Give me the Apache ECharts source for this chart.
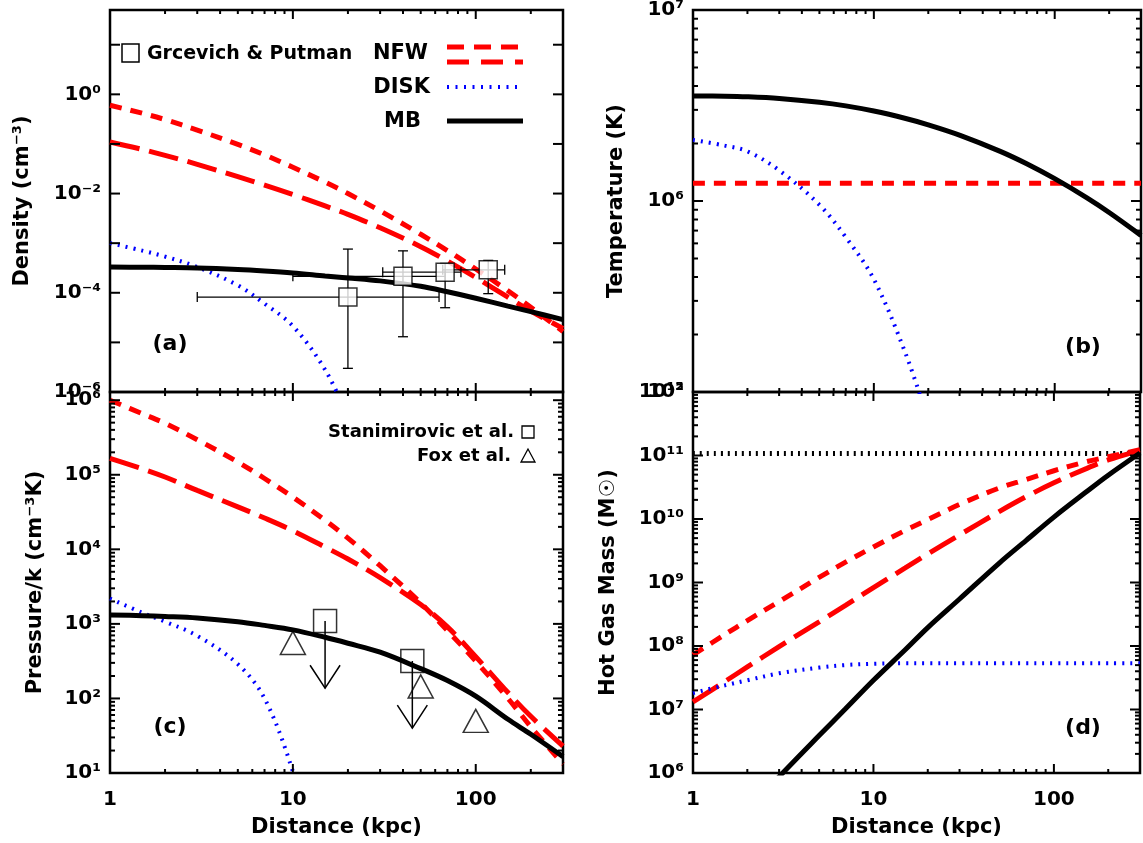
<!DOCTYPE html>
<html>
<head>
<meta charset="utf-8">
<title>Hot gas profiles</title>
<script src="https://cdn.jsdelivr.net/npm/echarts@6/dist/echarts.min.js"></script>
<style>
    html, body { margin: 0; padding: 0; background: #fff; }
    #chart { width: 1143px; height: 843px; }
</style>
</head>
<body>
<div id="chart"></div>
<script>
const radius = [1, 1.5, 2, 3, 5, 7, 10, 15, 20, 30, 50, 70, 100, 150, 200, 300];

// (a) log10 density (cm^-3)
const densNfwA = [-0.22, -0.38, -0.51, -0.72, -1.01, -1.22, -1.47, -1.77, -2.00, -2.35, -2.82, -3.15, -3.52, -3.96, -4.29, -4.78];
const densNfwB = [-0.96, -1.11, -1.23, -1.41, -1.66, -1.83, -2.02, -2.25, -2.42, -2.69, -3.07, -3.36, -3.69, -4.09, -4.37, -4.72];
const densDisk = [-3.00, -3.15, -3.27, -3.48, -3.85, -4.22, -4.67, -5.55, -6.50];
const densMb   = [-3.48, -3.485, -3.49, -3.50, -3.53, -3.56, -3.60, -3.66, -3.70, -3.76, -3.87, -3.98, -4.11, -4.27, -4.38, -4.54];

// (b) log10 temperature (K)
const tempMb   = [6.55, 6.549, 6.546, 6.537, 6.517, 6.498, 6.471, 6.432, 6.399, 6.344, 6.26, 6.195, 6.117, 6.018, 5.94, 5.82];
const tempDisk = [6.32, 6.29, 6.26, 6.16, 5.98, 5.81, 5.59, 5.20, 4.85];
const tempNfwR = [1, 300];
const tempNfw  = [6.093, 6.093];

// (c) log10 pressure/k (cm^-3 K)
const presNfwA = [6.00, 5.82, 5.69, 5.47, 5.17, 4.95, 4.70, 4.39, 4.15, 3.78, 3.28, 2.91, 2.50, 2.00, 1.62, 1.12];
const presNfwB = [5.22, 5.08, 4.97, 4.79, 4.57, 4.42, 4.25, 4.03, 3.87, 3.62, 3.26, 2.96, 2.56, 2.08, 1.76, 1.36];
const presDisk = [3.34, 3.15, 3.03, 2.84, 2.46, 2.00, 1.02, -0.50];
const presMb   = [3.12, 3.11, 3.10, 3.08, 3.03, 2.98, 2.92, 2.82, 2.74, 2.62, 2.40, 2.24, 2.03, 1.72, 1.52, 1.22];

// (d) log10 hot gas mass (Msun)
const massNfwA = [7.86, 8.18, 8.40, 8.70, 9.08, 9.32, 9.56, 9.82, 9.99, 10.23, 10.49, 10.62, 10.76, 10.90, 10.98, 11.09];
const massNfwB = [7.12, 7.44, 7.67, 7.99, 8.38, 8.64, 8.92, 9.23, 9.45, 9.75, 10.12, 10.35, 10.57, 10.79, 10.93, 11.08];
const massDisk = [7.26, 7.38, 7.46, 7.57, 7.66, 7.70, 7.72, 7.73, 7.73, 7.73, 7.73, 7.73, 7.73, 7.73, 7.73, 7.73];
const massMb   = [4.50, 5.00, 5.40, 5.94, 6.59, 7.01, 7.46, 7.94, 8.29, 8.74, 9.31, 9.66, 10.03, 10.42, 10.69, 11.04];
const massLimR = [1, 300];
const massLim  = [11.03, 11.03];

// Grcevich & Putman points (a)
const gpDist   = [20, 40, 68, 117];
const gpDens   = [8.2e-5, 2.15e-4, 2.6e-4, 2.9e-4];
const gpDistLo = [3.0, 10, 31, 66];
const gpDistHi = [63, 68, 83, 144];
const gpDensLo = [3.0e-6, 1.3e-5, 5.0e-5, 9.6e-5];
const gpDensHi = [7.6e-4, 7.0e-4, 3.9e-4, 4.5e-4];

// Stanimirovic (upper limits) and Fox points (c)
const stDist    = [15, 45];
const stPres    = [1094, 318];
const stPresLim = [137, 40];
const foxDist   = [10, 50, 100];
const foxPres   = [555, 145, 50];

// tick labels
const xTickVals  = [1, 10, 100];
const xTickText  = ['1', '10', '100'];
const densTickVals = [1e-6, 1e-4, 1e-2, 1];
const densTickText = ['10⁻⁶', '10⁻⁴', '10⁻²', '10⁰'];
const tempTickVals = [1e5, 1e6, 1e7];
const tempTickText = ['10⁵', '10⁶', '10⁷'];
const presTickVals = [1e1, 1e2, 1e3, 1e4, 1e5, 1e6];
const presTickText = ['10¹', '10²', '10³', '10⁴', '10⁵', '10⁶'];
const massTickVals = [1e6, 1e7, 1e8, 1e9, 1e10, 1e11, 1e12];
const massTickText = ['10⁶', '10⁷', '10⁸', '10⁹', '10¹⁰', '10¹¹', '10¹²'];

const minorSteps = [2, 3, 4, 5, 6, 7, 8, 9];

const FONT = 'DejaVu Sans';
const RED = '#ff0000', BLUE = '#0000ff', BLACK = '#000000';
const shortDash = [12, 9], longDash = [30, 10], dotted = [2, 6];

function decades(lo, hi) {
    let out = [];
    for (let e = lo; e <= hi; e++) out.push(Math.pow(10, e));
    return out;
}
function minors(lo, hi, max) {
    let out = [];
    for (let e = lo; e <= hi; e++) {
        minorSteps.forEach(k => {
            let v = k * Math.pow(10, e);
            if (v <= max) out.push(v);
        });
    }
    return out;
}

function labelFrom(vals, texts) {
    return function (v) {
        for (let i = 0; i < vals.length; i++) {
            if (Math.abs(Math.log10(vals[i]) - Math.log10(v)) < 1e-6) return texts[i];
        }
        return '';
    };
}

function curve(g, xs, logs, color, width, dash) {
    let data = [];
    for (let i = 0; i < logs.length; i++) data.push([xs[i], Math.pow(10, logs[i])]);
    return {
        type: 'line', xAxisIndex: g, yAxisIndex: g, data: data,
        symbol: 'none', smooth: 0.35, silent: true,
        lineStyle: {color: color, width: width, type: dash || 'solid', cap: 'butt'},
        z: 2
    };
}

// box ticks on all four sides, placed through the axes
function xTicks(g, vals, yRef, len) {
    return {
        type: 'custom', xAxisIndex: g, yAxisIndex: g, silent: true, z: 5,
        data: vals.map(v => [v, yRef, len]),
        renderItem: function (params, api) {
            let cs = params.coordSys;
            let x = api.coord([api.value(0), api.value(1)])[0];
            let l = api.value(2);
            let st = {stroke: BLACK, lineWidth: 2};
            return {type: 'group', children: [
                {type: 'line', shape: {x1: x, y1: cs.y + cs.height, x2: x, y2: cs.y + cs.height - l}, style: st},
                {type: 'line', shape: {x1: x, y1: cs.y, x2: x, y2: cs.y + l}, style: st}
            ]};
        }
    };
}
function yTicks(g, vals, len) {
    return {
        type: 'custom', xAxisIndex: g, yAxisIndex: g, silent: true, z: 5,
        data: vals.map(v => [1, v, len]),
        renderItem: function (params, api) {
            let cs = params.coordSys;
            let y = api.coord([api.value(0), api.value(1)])[1];
            let l = api.value(2);
            let st = {stroke: BLACK, lineWidth: 2};
            return {type: 'group', children: [
                {type: 'line', shape: {x1: cs.x, y1: y, x2: cs.x + l, y2: y}, style: st},
                {type: 'line', shape: {x1: cs.x + cs.width, y1: y, x2: cs.x + cs.width - l, y2: y}, style: st}
            ]};
        }
    };
}

const yMin = [1e-6, 1e5, 1e1, 1e6];
const yMax = [Math.pow(10, 1.7), 1e7, Math.pow(10, 6.11), 1e12];
const yNames = ['Density (cm⁻³)', 'Temperature (K)', 'Pressure/k (cm⁻³K)', 'Hot Gas Mass (M☉)'];
const yNameGap = [77, 66, 64, 74];
const yFormat = [
    labelFrom(densTickVals, densTickText),
    labelFrom(tempTickVals, tempTickText),
    labelFrom(presTickVals, presTickText),
    labelFrom(massTickVals, massTickText)
];

const gridPos = [
    {left: 110, top: 10, width: 453, height: 382},
    {left: 693, top: 10, width: 448, height: 382},
    {left: 110, top: 392, width: 453, height: 381},
    {left: 693, top: 392, width: 448, height: 381}
];

let grids = gridPos.map(p => Object.assign({show: true, borderColor: BLACK, borderWidth: 2.5, backgroundColor: 'rgba(0,0,0,0)'}, p));

let xAxes = gridPos.map((p, i) => ({
    type: 'log', logBase: 10, gridIndex: i, min: 1, max: 300,
    axisLine: {show: false}, axisTick: {show: false}, splitLine: {show: false},
    axisLabel: {
        show: i >= 2, margin: 17, formatter: labelFrom(xTickVals, xTickText),
        showMinLabel: true, showMaxLabel: true,
        color: BLACK, fontFamily: FONT, fontWeight: 'bold', fontSize: 20
    },
    name: i >= 2 ? 'Distance (kpc)' : '',
    nameLocation: 'middle', nameGap: 44,
    nameTextStyle: {color: BLACK, fontFamily: FONT, fontWeight: 'bold', fontSize: 21}
}));

let yAxes = gridPos.map((p, i) => ({
    type: 'log', logBase: 10, gridIndex: i, min: yMin[i], max: yMax[i],
    axisLine: {show: false}, axisTick: {show: false}, splitLine: {show: false},
    axisLabel: {
        margin: 9, padding: [10, 0, 0, 0], formatter: yFormat[i], showMinLabel: true, showMaxLabel: true,
        color: BLACK, fontFamily: FONT, fontWeight: 'bold', fontSize: 20
    },
    name: yNames[i], nameLocation: 'middle', nameGap: yNameGap[i],
    nameTextStyle: {color: BLACK, fontFamily: FONT, fontWeight: 'bold', fontSize: 21}
}));

const xMajor = decades(0, 2);
const xMinor = minors(0, 2, 300);

let series = [
    // (a) density
    curve(0, radius, densNfwA, RED, 5, shortDash),
    curve(0, radius, densNfwB, RED, 5, longDash),
    curve(0, radius, densDisk, BLUE, 4, dotted),
    curve(0, radius, densMb, BLACK, 5),
    {
        type: 'custom', xAxisIndex: 0, yAxisIndex: 0, silent: true, z: 6,
        data: gpDist.map((d, i) => [d, gpDens[i], gpDistLo[i], gpDistHi[i], gpDensLo[i], gpDensHi[i]]),
        renderItem: function (params, api) {
            let l = api.coord([api.value(2), api.value(1)]);
            let r = api.coord([api.value(3), api.value(1)]);
            let b = api.coord([api.value(0), api.value(4)]);
            let t = api.coord([api.value(0), api.value(5)]);
            let st = {stroke: BLACK, lineWidth: 1.3};
            return {type: 'group', children: [
                {type: 'line', shape: {x1: l[0], y1: l[1], x2: r[0], y2: r[1]}, style: st},
                {type: 'line', shape: {x1: l[0], y1: l[1] - 5, x2: l[0], y2: l[1] + 5}, style: st},
                {type: 'line', shape: {x1: r[0], y1: r[1] - 5, x2: r[0], y2: r[1] + 5}, style: st},
                {type: 'line', shape: {x1: t[0], y1: t[1], x2: b[0], y2: b[1]}, style: st},
                {type: 'line', shape: {x1: t[0] - 5, y1: t[1], x2: t[0] + 5, y2: t[1]}, style: st},
                {type: 'line', shape: {x1: b[0] - 5, y1: b[1], x2: b[0] + 5, y2: b[1]}, style: st}
            ]};
        }
    },
    {
        type: 'scatter', xAxisIndex: 0, yAxisIndex: 0, silent: true, z: 7,
        data: gpDist.map((d, i) => [d, gpDens[i]]),
        symbol: 'rect', symbolSize: 18,
        itemStyle: {color: '#fff', borderColor: BLACK, borderWidth: 1.5}
    },

    // (b) temperature
    curve(1, tempNfwR, tempNfw, RED, 5, shortDash),
    curve(1, radius, tempDisk, BLUE, 4, dotted),
    curve(1, radius, tempMb, BLACK, 5),

    // (c) pressure
    curve(2, radius, presNfwA, RED, 5, shortDash),
    curve(2, radius, presNfwB, RED, 5, longDash),
    curve(2, radius, presDisk, BLUE, 4, dotted),
    curve(2, radius, presMb, BLACK, 5),
    {
        type: 'custom', xAxisIndex: 2, yAxisIndex: 2, silent: true, z: 6,
        data: stDist.map((d, i) => [d, stPres[i], stPresLim[i]]),
        renderItem: function (params, api) {
            let top = api.coord([api.value(0), api.value(1)]);
            let tip = api.coord([api.value(0), api.value(2)]);
            let st = {stroke: BLACK, lineWidth: 1.5, fill: 'none'};
            return {type: 'group', children: [
                {type: 'line', shape: {x1: top[0], y1: top[1], x2: tip[0], y2: tip[1]}, style: st},
                {type: 'polyline', shape: {points: [[tip[0] - 15, tip[1] - 23], [tip[0], tip[1]], [tip[0] + 15, tip[1] - 23]]}, style: st}
            ]};
        }
    },
    {
        type: 'scatter', xAxisIndex: 2, yAxisIndex: 2, silent: true, z: 7,
        data: stDist.map((d, i) => [d, stPres[i]]),
        symbol: 'rect', symbolSize: 23,
        itemStyle: {color: 'rgba(0,0,0,0)', borderColor: BLACK, borderWidth: 1.5}
    },
    {
        type: 'scatter', xAxisIndex: 2, yAxisIndex: 2, silent: true, z: 7,
        data: foxDist.map((d, i) => [d, foxPres[i]]),
        symbol: 'triangle', symbolSize: [25, 23],
        itemStyle: {color: 'rgba(0,0,0,0)', borderColor: BLACK, borderWidth: 1.5}
    },

    // (d) mass
    curve(3, massLimR, massLim, BLACK, 5, [2, 5]),
    curve(3, radius, massNfwA, RED, 5, shortDash),
    curve(3, radius, massNfwB, RED, 5, longDash),
    curve(3, radius, massDisk, BLUE, 4, dotted),
    curve(3, radius, massMb, BLACK, 5)
];

// ticks for every panel
for (let g = 0; g < 4; g++) {
    series.push(xTicks(g, xMajor, yMin[g], 9));
    series.push(xTicks(g, xMinor, yMin[g], 4));
}
series.push(yTicks(0, decades(-6, 1), 10));
series.push(yTicks(1, decades(5, 7), 10));
series.push(yTicks(1, minors(5, 6, 1e7), 5));
series.push(yTicks(2, decades(1, 6), 10));
series.push(yTicks(2, minors(1, 5, 1e6), 5));
series.push(yTicks(3, decades(6, 12), 10));
series.push(yTicks(3, minors(6, 11, 1e12), 5));

function txt(x, y, s, size, align) {
    return {type: 'text', x: x, y: y, z: 20, silent: true,
        style: {text: s, font: 'bold ' + size + 'px "' + FONT + '"', fill: BLACK,
            textAlign: align || 'left', textVerticalAlign: 'middle'}};
}
function seg(x1, y1, x2, y2, color, width, dash) {
    return {type: 'line', z: 20, silent: true, shape: {x1: x1, y1: y1, x2: x2, y2: y2},
        style: {stroke: color, lineWidth: width, lineDash: dash || null, lineCap: 'butt'}};
}

let graphic = [
    // legend of panel (a)
    {type: 'rect', z: 20, silent: true, shape: {x: 122, y: 44, width: 17, height: 18},
        style: {fill: 'none', stroke: BLACK, lineWidth: 1.5}},
    txt(147, 54, 'Grcevich & Putman', 19),
    txt(428, 54, 'NFW', 21, 'right'),
    seg(447, 47, 523, 47, RED, 5, [17, 10]),
    seg(447, 62, 523, 62, RED, 5, [22, 12]),
    txt(430, 88, 'DISK', 21, 'right'),
    seg(447, 87, 517, 87, BLUE, 4, [2, 6.5]),
    txt(421, 122, 'MB', 21, 'right'),
    seg(447, 121, 523, 121, BLACK, 5),
    // legend of panel (c)
    txt(514, 432, 'Stanimirovic et al.', 18, 'right'),
    {type: 'rect', z: 20, silent: true, shape: {x: 522, y: 426, width: 12, height: 12},
        style: {fill: 'none', stroke: BLACK, lineWidth: 1.3}},
    txt(511, 456, 'Fox et al.', 18, 'right'),
    {type: 'polygon', z: 20, silent: true, shape: {points: [[528, 449], [521, 462], [535, 462]]},
        style: {fill: 'none', stroke: BLACK, lineWidth: 1.3}},
    // panel tags
    txt(170, 344, '(a)', 22, 'center'),
    txt(1083, 347, '(b)', 22, 'center'),
    txt(170, 727, '(c)', 22, 'center'),
    txt(1083, 728, '(d)', 22, 'center')
];

let myChart = echarts.init(document.getElementById('chart'), null, {renderer: 'canvas'});
myChart.setOption({
    backgroundColor: '#fff',
    animation: false,
    grid: grids,
    xAxis: xAxes,
    yAxis: yAxes,
    series: series,
    graphic: graphic
});
</script>
</body>
</html>
